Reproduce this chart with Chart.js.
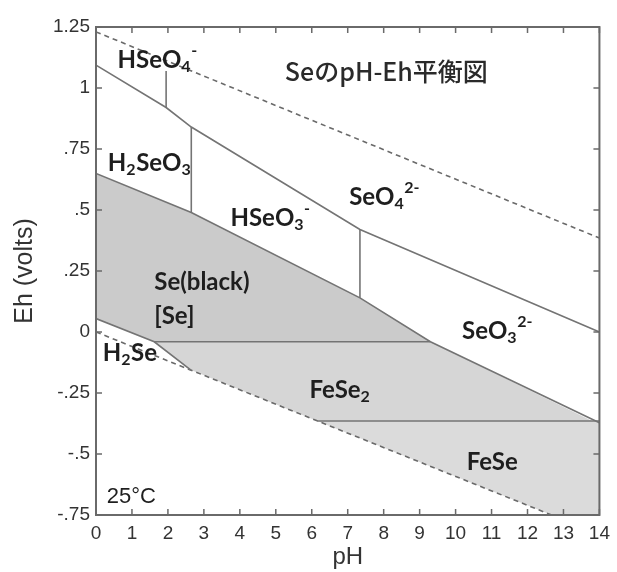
<!DOCTYPE html>
<html><head><meta charset="utf-8">
<script src="https://cdn.jsdelivr.net/npm/chart.js@4/dist/chart.umd.min.js"></script>
<style>html,body{margin:0;padding:0;background:#fff;}#wrap{width:617px;height:572px;}</style>
</head><body><div id="wrap"><canvas id="c" width="617" height="572"></canvas></div>
<script>
// ---- data (pH, Eh) ----
const xTickLabels = ['0','1','2','3','4','5','6','7','8','9','10','11','12','13','14'];
const yTickValues = [-0.75,-0.5,-0.25,0,0.25,0.5,0.75,1,1.25];
const yTickLabels = ['-.75','-.5','-.25','0','.25','.5','.75','1','1.25'];

// boundary lines
const upperBoundary = [[0,1.094],[1.95,0.92],[2.65,0.84],[7.34,0.42],[14,0.0]];
const vertHSeO4 = [[1.95,1.07],[1.95,0.92]];
const vertH2SeO3 = [[2.65,0.84],[2.65,0.49]];
const vertHSeO3 = [[7.34,0.42],[7.34,0.14]];
const seBoundary = [[0,0.65],[2.65,0.49],[7.34,0.14],[9.3,-0.04],[14,-0.372]];
const seFeSe2Line = [[1.62,-0.04],[9.3,-0.04]];
const h2seLine = [[0,0.055],[1.62,-0.04],[2.64,-0.156]];
const feSe2FeSeLine = [[6.15,-0.365],[14,-0.365]];
const waterUpper = [[0,1.23],[14,0.385]];
const waterLower = [[0,0],[12.67,-0.75]];

// shaded fields
const seField = [[0,0.65],[2.65,0.49],[7.34,0.14],[9.3,-0.04],[1.62,-0.04],[0,0.055],[0,0.65]];
const feSe2Field = [[1.62,-0.04],[9.3,-0.04],[13.8,-0.365],[6.15,-0.365],[2.64,-0.156],[1.62,-0.04]];
const feSeField = [[6.15,-0.365],[13.8,-0.365],[14,-0.372],[14,-0.75],[12.67,-0.75],[6.15,-0.365]];

// labels: parts [text, level] level 0 normal, -1 subscript, 1 superscript
const labelParts = [
  [['HSeO',0],['4',-1],['-',1]],
  [['H',0],['2',-1],['SeO',0],['3',-1]],
  [['HSeO',0],['3',-1],['-',1]],
  [['SeO',0],['4',-1],['2-',1]],
  [['Se(black)',0]],
  [['[Se]',0]],
  [['SeO',0],['3',-1],['2-',1]],
  [['H',0],['2',-1],['Se',0]],
  [['FeSe',0],['2',-1]],
  [['FeSe',0]]
];
const labelPH = [0.6, 0.33, 3.74, 7.04, 1.62, 1.62, 10.18, 0.19, 5.94, 10.31];
const labelEh = [1.115, 0.693, 0.467, 0.553, 0.205, 0.063, 0.004, -0.086, -0.238, -0.533];
const titleText = 'SeのpH-Eh平衡図';
const titlePos = [5.25, 1.066];
const tempText = '25°C';
const tempPos = [0.3, -0.676];

const pts = a => a.map(p => ({x:p[0], y:p[1]}));
const LINE = '#747474';
function lineDs(arr, dashed){
  return {data: pts(arr), borderColor: dashed ? '#6a6a6a' : LINE, borderWidth: 1.6,
    borderDash: dashed ? [5,4] : [], pointRadius: 0, fill: false, tension: 0, order: 1};
}
function fieldDs(arr, color){
  return {data: pts(arr), borderWidth: 0, borderColor: 'rgba(0,0,0,0)', backgroundColor: color,
    pointRadius: 0, fill: 'shape', tension: 0, order: 5};
}

const decor = {
  id: 'decor',
  afterDatasetsDraw(chart){
    const {ctx, chartArea: a, scales: {x, y}} = chart;
    ctx.save();
    ctx.strokeStyle = '#6a6a6a'; ctx.lineWidth = 2;
    ctx.strokeRect(a.left, a.top, a.right - a.left, a.bottom - a.top);
    ctx.lineWidth = 1.5;
    const tl = 6;
    xTickLabels.forEach((t, i) => {
      const px = x.getPixelForValue(i);
      ctx.beginPath();
      ctx.moveTo(px, a.bottom); ctx.lineTo(px, a.bottom - tl);
      ctx.moveTo(px, a.top); ctx.lineTo(px, a.top + tl);
      ctx.stroke();
    });
    yTickValues.forEach(v => {
      const py = y.getPixelForValue(v);
      ctx.beginPath();
      ctx.moveTo(a.left, py); ctx.lineTo(a.left + tl, py);
      ctx.moveTo(a.right, py); ctx.lineTo(a.right - tl, py);
      ctx.stroke();
    });
    ctx.fillStyle = '#1e1e1e';
    ctx.textBaseline = 'middle'; ctx.textAlign = 'left';
    labelParts.forEach((parts, i) => {
      let px = x.getPixelForValue(labelPH[i]);
      const py = y.getPixelForValue(labelEh[i]);
      parts.forEach(([t, lvl]) => {
        ctx.font = lvl === 0 ? 'bold 24px Lato' : 'bold 16px Lato';
        const dy = lvl === -1 ? 7 : (lvl === 1 ? -9 : 0);
        ctx.fillText(t, px, py + dy);
        px += ctx.measureText(t).width + (lvl === 0 ? 0 : 0.5);
      });
    });
    ctx.font = '500 25px "Noto Sans CJK JP"';
    ctx.fillStyle = '#2a2a2a';
    ctx.fillText(titleText, x.getPixelForValue(titlePos[0]), y.getPixelForValue(titlePos[1]));
    ctx.font = '22px "Liberation Sans"';
    ctx.fillStyle = '#1e1e1e';
    ctx.fillText(tempText, x.getPixelForValue(tempPos[0]), y.getPixelForValue(tempPos[1]));
    ctx.restore();
  }
};

new Chart(document.getElementById('c'), {
  type: 'line',
  data: {
    datasets: [
      fieldDs(seField, '#cbcbcb'),
      fieldDs(feSe2Field, '#d6d6d6'),
      fieldDs(feSeField, '#dbdbdb'),
      lineDs(upperBoundary), lineDs(vertHSeO4), lineDs(vertH2SeO3), lineDs(vertHSeO3),
      lineDs(seBoundary), lineDs(seFeSe2Line), lineDs(h2seLine), lineDs(feSe2FeSeLine),
      lineDs(waterUpper, true), lineDs(waterLower, true)
    ]
  },
  options: {
    responsive: false, animation: false,
    layout: {padding: {left: 0, top: 27, right: 12, bottom: 0}},
    plugins: {legend: {display: false}, tooltip: {enabled: false}, filler: {propagate: false}},
    scales: {
      x: {type: 'linear', min: 0, max: 14,
        afterFit: s => { s.height = 57; },
        afterBuildTicks: s => { s.ticks = xTickLabels.map((t, i) => ({value: i})); },
        ticks: {callback: (v, i) => xTickLabels[i], color: '#333', padding: 7, maxRotation: 0, autoSkip: false,
          font: {family: 'Liberation Sans', size: 19}},
        grid: {display: true, drawOnChartArea: false, drawTicks: false},
        border: {display: false},
        title: {display: true, text: 'pH', color: '#333', font: {family: 'Liberation Sans', size: 24}, padding: {top: 0, bottom: 0}}
      },
      y: {type: 'linear', min: -0.75, max: 1.25,
        afterFit: s => { s.width = 96; },
        afterBuildTicks: s => { s.ticks = yTickValues.map(v => ({value: v})); },
        ticks: {callback: (v, i) => yTickLabels[i], color: '#333', padding: 6, autoSkip: false,
          font: {family: 'Liberation Sans', size: 19}},
        grid: {display: true, drawOnChartArea: false, drawTicks: false},
        border: {display: false},
        title: {display: true, text: 'Eh (volts)', color: '#333', font: {family: 'Liberation Sans', size: 25}, padding: {top: 10, bottom: 0}}
      }
    }
  },
  plugins: [decor]
});
</script></body></html>
